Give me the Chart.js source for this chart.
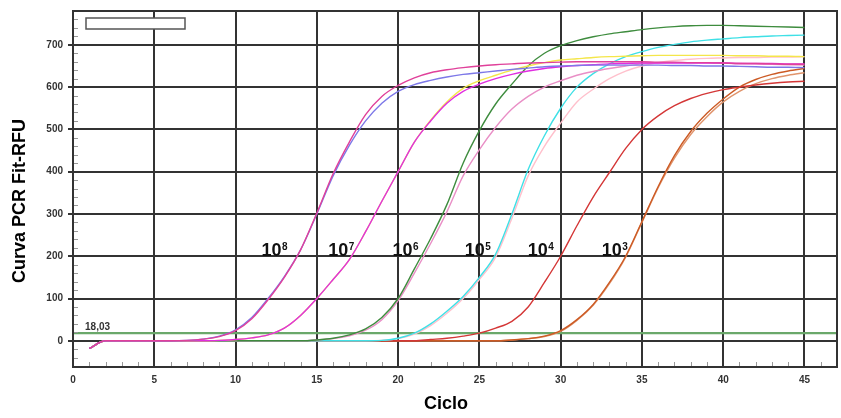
<!DOCTYPE html>
<html>
<head>
<meta charset="utf-8">
<script src="https://cdn.jsdelivr.net/npm/chart.js@4.4.1/dist/chart.umd.min.js"></script>
<style>
  html, body { margin: 0; padding: 0; background: #fff; }
</style>
</head>
<body>
<canvas id="pcr" width="841" height="418"></canvas>
<script>
// ciclos 1..45
const cycles = [1,2,3,4,5,6,7,8,9,10,11,12,13,14,15,16,17,18,19,20,21,22,23,24,25,26,27,28,29,30,31,32,33,34,35,36,37,38,39,40,41,42,43,44,45];

// 10^8
const rfu8a = [-18,0,0,0,0,0,1,4,11,26,55,100,152,215,300,390,462,520,562,590,606,616,624,630,634,638,642,645,648,650,651,652,652,652,652,652,651,651,650,650,649,648,647,647,646];
const rfu8b = [-18,0,0,0,0,0,1,4,10,24,52,97,150,215,302,395,470,535,578,604,622,634,641,646,650,653,655,657,658,659,660,660,660,660,660,659,659,658,658,657,656,656,655,654,654];
// 10^7
const rfu7a = [-18,0,0,0,0,0,0,0,1,3,7,14,30,60,100,145,192,258,330,400,470,522,565,597,615,628,640,650,658,664,667,670,672,673,674,675,675,675,675,675,674,674,673,673,672];
const rfu7b = [-18,0,0,0,0,0,0,0,1,3,7,14,30,60,100,145,192,258,330,400,470,520,562,590,607,620,630,638,644,648,651,653,655,656,657,657,657,657,657,657,656,656,656,655,655];
// 10^6
const rfu6a = [-18,0,0,0,0,0,0,0,0,0,0,0,0,0,2,6,14,28,55,100,170,242,322,420,497,560,607,650,680,698,710,719,726,731,736,740,743,745,746,746,745,744,743,742,741];
const rfu6b = [-18,0,0,0,0,0,0,0,0,0,0,0,0,0,2,5,12,25,50,95,160,230,305,390,452,505,548,578,600,615,628,637,644,650,655,657,658,658,658,657,656,655,654,653,652];
// 10^5
const rfu5a = [-18,0,0,0,0,0,0,0,0,0,0,0,0,0,0,0,0,0,1,6,18,40,70,105,150,205,300,405,485,550,600,632,655,672,684,694,701,707,711,714,717,719,721,722,723];
const rfu5b = [-18,0,0,0,0,0,0,0,0,0,0,0,0,0,0,0,0,0,1,5,16,36,65,100,145,198,290,390,460,515,565,595,620,638,650,658,663,666,668,669,670,670,671,671,672];
// 10^4
const rfu4a = [-18,0,0,0,0,0,0,0,0,0,0,0,0,0,0,0,0,0,0,0,0,3,6,11,18,30,46,80,138,200,272,340,398,455,500,532,556,573,585,594,600,605,609,612,614];
// 10^3
const rfu3a = [-18,0,0,0,0,0,0,0,0,0,0,0,0,0,0,0,0,0,0,0,0,0,0,0,0,0,2,5,11,24,50,86,138,200,282,365,438,495,538,572,600,618,630,638,644];
const rfu3b = [-18,0,0,0,0,0,0,0,0,0,0,0,0,0,0,0,0,0,0,0,0,0,0,0,0,0,2,5,10,22,48,84,135,198,280,362,432,488,530,565,590,608,620,628,634];

const threshold = 18.03;
const thresholdText = '18,03';

const xTicks = [0,5,10,15,20,25,30,35,40,45];
const yTicks = [0,100,200,300,400,500,600,700];

// etiquetas de diluciones: exponente y esquina izquierda (ciclo, RFU de la línea base)
const dilExp = ['8','7','6','5','4','3'];
const dilX = [11.6, 15.7, 19.65, 24.1, 27.98, 32.53];
const dilY = [200, 200, 200, 200, 200, 200];

const series = [
  { data: rfu8b, color: '#e0409a' },
  { data: rfu8a, color: '#7d78e8' },
  { data: rfu7b, color: '#e02ee0' },
  { data: rfu7a, color: '#f4e64a' },
  { data: rfu6a, color: '#3e8c3e' },
  { data: rfu6b, color: '#e98fc6' },
  { data: rfu5a, color: '#3fe0e6' },
  { data: rfu5b, color: '#ffc0cc' },
  { data: rfu4a, color: '#d43636' },
  { data: rfu3a, color: '#cc5a24' },
  { data: rfu3b, color: '#e0946c' },
];

const FONT = '"Liberation Sans", Arial, sans-serif';

const datasets = series.map(s => ({
  data: cycles.map((c, i) => ({ x: c, y: s.data[i] })),
  borderColor: s.color,
  borderWidth: 1.4,
  pointRadius: 0,
  fill: false,
  cubicInterpolationMode: 'monotone'
}));

datasets.push({
  data: [{ x: 0, y: threshold }, { x: 47, y: threshold }],
  borderColor: '#6aa86a',
  borderWidth: 2.2,
  pointRadius: 0,
  fill: false
});

const extras = {
  id: 'extras',
  afterDraw(chart) {
    const { ctx, chartArea: a, scales: { x, y } } = chart;
    ctx.save();

    // marcas menores hacia dentro
    ctx.strokeStyle = '#999';
    ctx.lineWidth = 1;
    ctx.beginPath();
    for (let v = 1; v <= 47; v++) {
      if (v % 5 === 0) continue;
      const px = Math.round(x.getPixelForValue(v)) + 0.5;
      ctx.moveTo(px, a.bottom);
      ctx.lineTo(px, a.bottom - 5);
    }
    for (let v = -60; v <= 780; v += 20) {
      if (v % 100 === 0) continue;
      const py = Math.round(y.getPixelForValue(v)) + 0.5;
      ctx.moveTo(a.left, py);
      ctx.lineTo(a.left + 5, py);
    }
    ctx.stroke();

    // marco
    ctx.strokeStyle = '#333';
    ctx.lineWidth = 2;
    ctx.strokeRect(a.left, a.top, a.right - a.left, a.bottom - a.top);

    // caja de leyenda vacía
    ctx.fillStyle = '#fff';
    ctx.fillRect(a.left + 13, a.top + 7, 99, 11);
    ctx.strokeStyle = '#555';
    ctx.lineWidth = 1.5;
    ctx.strokeRect(a.left + 13, a.top + 7, 99, 11);

    // valor del umbral
    ctx.fillStyle = '#333';
    ctx.font = 'bold 10px ' + FONT;
    ctx.textAlign = 'left';
    ctx.textBaseline = 'alphabetic';
    ctx.fillText(thresholdText, x.getPixelForValue(0.74), y.getPixelForValue(threshold) - 3);

    // etiquetas 10^n
    ctx.fillStyle = '#111';
    dilExp.forEach((e, i) => {
      const px = x.getPixelForValue(dilX[i]);
      const py = y.getPixelForValue(dilY[i]);
      ctx.font = 'bold 18px ' + FONT;
      ctx.fillText('10', px, py);
      const w = ctx.measureText('10').width;
      ctx.font = 'bold 10px ' + FONT;
      ctx.fillText(e, px + w + 0.5, py - 6);
    });

    // títulos de ejes
    ctx.fillStyle = '#000';
    ctx.font = 'bold 18px ' + FONT;
    ctx.textAlign = 'center';
    ctx.fillText('Ciclo', 446, 409);
    ctx.translate(25, 201);
    ctx.rotate(-Math.PI / 2);
    ctx.fillText('Curva PCR Fit-RFU', 0, 0);

    ctx.restore();
  }
};

new Chart(document.getElementById('pcr'), {
  type: 'line',
  data: { datasets },
  plugins: [extras],
  options: {
    responsive: false,
    animation: false,
    devicePixelRatio: 1,
    layout: { padding: { top: 7, right: 4, left: 0, bottom: 0 } },
    plugins: { legend: { display: false }, tooltip: { enabled: false } },
    scales: {
      x: {
        type: 'linear', min: 0, max: 47,
        afterFit: s => { s.height = 51; },
        afterBuildTicks: s => { s.ticks = xTicks.map(v => ({ value: v })); },
        grid: { color: '#333', lineWidth: 2, drawTicks: false },
        border: { display: true, color: '#333', width: 2 },
        ticks: { color: '#333', padding: 7, maxRotation: 0, font: { family: FONT, size: 10, weight: 'bold' } }
      },
      y: {
        type: 'linear', min: -62, max: 780,
        afterFit: s => { s.width = 73; },
        afterBuildTicks: s => { s.ticks = yTicks.map(v => ({ value: v })); },
        grid: { color: '#333', lineWidth: 2, drawTicks: true, tickLength: 5, tickColor: '#333' },
        border: { display: true, color: '#333', width: 2 },
        ticks: { color: '#333', padding: 5, font: { family: FONT, size: 10, weight: 'bold' } }
      }
    }
  }
});
</script>
</body>
</html>
